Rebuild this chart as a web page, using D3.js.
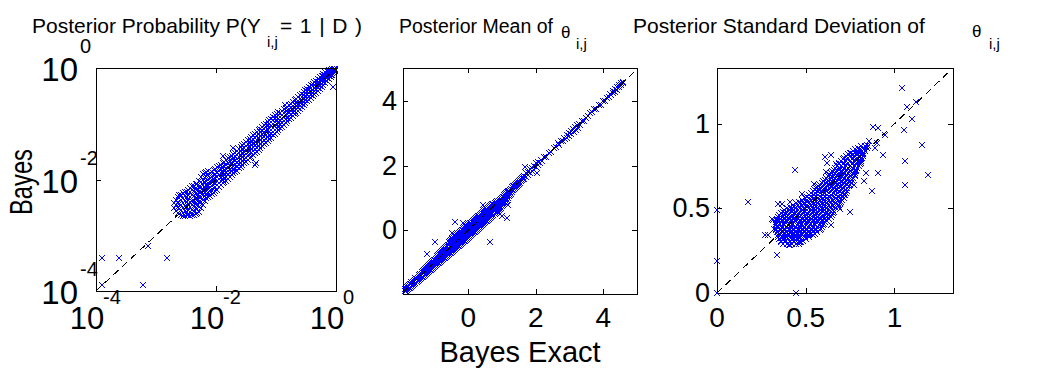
<!DOCTYPE html>
<html>
<head>
<meta charset="utf-8">
<script src="https://cdn.jsdelivr.net/npm/d3@7"></script>
<style>
  body { margin: 0; background: #fff; }
  svg { display: block; font-family: "Liberation Sans", Arial, sans-serif; }
</style>
</head>
<body>
<svg id="chart" width="1040" height="374"></svg>
<script>
// ---- panel 1: posterior probability P(Y=1|D), values kept as log10.
// dense band, one row per exact value: [log10 exact, [log10 bayes ...]]
const probBandRows = [
  [-2.70, [-2.52,-2.42]],
  [-2.67, [-2.56,-2.46,-2.36]],
  [-2.64, [-2.60,-2.49,-2.40,-2.31]],
  [-2.61, [-2.62,-2.53,-2.44,-2.34,-2.27]],
  [-2.58, [-2.64,-2.55,-2.46,-2.36,-2.28]],
  [-2.55, [-2.65,-2.60,-2.51,-2.42,-2.33,-2.25]],
  [-2.52, [-2.65,-2.56,-2.47,-2.39,-2.29,-2.22]],
  [-2.49, [-2.64,-2.59,-2.50,-2.41,-2.32,-2.23]],
  [-2.46, [-2.63,-2.54,-2.44,-2.36,-2.27,-2.18]],
  [-2.43, [-2.66,-2.58,-2.50,-2.41,-2.32,-2.23,-2.15]],
  [-2.40, [-2.64,-2.55,-2.46,-2.38,-2.28,-2.19,-2.12]],
  [-2.37, [-2.63,-2.56,-2.47,-2.39,-2.30,-2.21,-2.11]],
  [-2.34, [-2.61,-2.52,-2.43,-2.35,-2.25,-2.16,-2.08]],
  [-2.31, [-2.60,-2.53,-2.45,-2.36,-2.27,-2.18,-2.08]],
  [-2.28, [-2.58,-2.49,-2.41,-2.31,-2.22,-2.13,-2.03]],
  [-2.25, [-2.52,-2.41,-2.32,-2.23,-2.14,-2.05,-1.96]],
  [-2.22, [-2.45,-2.36,-2.27,-2.18,-2.09,-2.00,-1.90]],
  [-2.19, [-2.38,-2.30,-2.22,-2.14,-2.06,-1.98,-1.89]],
  [-2.16, [-2.34,-2.26,-2.17,-2.10,-2.02,-1.94,-1.86]],
  [-2.13, [-2.32,-2.25,-2.17,-2.09,-2.01,-1.92,-1.85]],
  [-2.10, [-2.29,-2.21,-2.13,-2.04,-1.97,-1.88]],
  [-2.07, [-2.26,-2.20,-2.12,-2.04,-1.96,-1.87]],
  [-2.04, [-2.24,-2.16,-2.07,-2.00,-1.92,-1.83]],
  [-2.01, [-2.21,-2.14,-2.06,-1.98,-1.90,-1.81]],
  [-1.98, [-2.18,-2.10,-2.02,-1.95,-1.86,-1.78]],
  [-1.95, [-2.14,-2.06,-1.99,-1.92,-1.85,-1.76]],
  [-1.92, [-2.10,-2.03,-1.96,-1.88,-1.82,-1.74]],
  [-1.89, [-2.07,-2.00,-1.93,-1.86,-1.79,-1.71]],
  [-1.86, [-2.04,-1.97,-1.90,-1.83,-1.76,-1.68]],
  [-1.83, [-2.02,-1.95,-1.88,-1.81,-1.74,-1.65]],
  [-1.80, [-1.99,-1.91,-1.85,-1.78,-1.71,-1.62]],
  [-1.77, [-1.96,-1.89,-1.82,-1.75,-1.68,-1.60]],
  [-1.74, [-1.92,-1.85,-1.79,-1.71,-1.64,-1.57]],
  [-1.71, [-1.89,-1.82,-1.75,-1.68,-1.61,-1.54]],
  [-1.68, [-1.87,-1.80,-1.73,-1.66,-1.58,-1.52]],
  [-1.65, [-1.84,-1.77,-1.70,-1.63,-1.56,-1.49]],
  [-1.62, [-1.80,-1.73,-1.66,-1.60,-1.52,-1.45]],
  [-1.59, [-1.77,-1.70,-1.63,-1.56,-1.49,-1.42]],
  [-1.56, [-1.74,-1.67,-1.60,-1.53,-1.46,-1.39]],
  [-1.53, [-1.71,-1.64,-1.57,-1.50,-1.43,-1.36]],
  [-1.50, [-1.68,-1.61,-1.55,-1.47,-1.40,-1.33]],
  [-1.47, [-1.65,-1.58,-1.51,-1.44,-1.37,-1.30]],
  [-1.44, [-1.62,-1.55,-1.48,-1.41,-1.34,-1.27]],
  [-1.41, [-1.59,-1.52,-1.45,-1.38,-1.31,-1.24]],
  [-1.38, [-1.56,-1.49,-1.42,-1.36,-1.28,-1.21]],
  [-1.35, [-1.53,-1.46,-1.39,-1.32,-1.25,-1.18]],
  [-1.32, [-1.50,-1.43,-1.36,-1.29,-1.22,-1.15]],
  [-1.29, [-1.47,-1.40,-1.33,-1.26,-1.19,-1.12]],
  [-1.26, [-1.43,-1.36,-1.30,-1.22,-1.15,-1.09]],
  [-1.23, [-1.40,-1.33,-1.26,-1.19,-1.12,-1.06]],
  [-1.20, [-1.37,-1.30,-1.23,-1.16,-1.09,-1.03]],
  [-1.17, [-1.34,-1.27,-1.20,-1.13,-1.06,-1.00]],
  [-1.14, [-1.31,-1.24,-1.17,-1.11,-1.03,-0.97]],
  [-1.11, [-1.28,-1.21,-1.14,-1.07,-1.00,-0.94]],
  [-1.08, [-1.25,-1.18,-1.11,-1.04,-0.97,-0.91]],
  [-1.05, [-1.21,-1.14,-1.07,-1.00,-0.93,-0.88]],
  [-1.02, [-1.18,-1.11,-1.04,-0.97,-0.90,-0.85]],
  [-0.99, [-1.15,-1.08,-1.01,-0.94,-0.87,-0.82]],
  [-0.96, [-1.12,-1.05,-0.98,-0.92,-0.84,-0.79]],
  [-0.93, [-1.08,-1.01,-0.94,-0.87,-0.80]],
  [-0.90, [-1.05,-0.98,-0.91,-0.84,-0.77]],
  [-0.87, [-1.02,-0.95,-0.88,-0.81,-0.74]],
  [-0.84, [-0.99,-0.92,-0.85,-0.78,-0.71]],
  [-0.81, [-0.95,-0.89,-0.83,-0.77,-0.70]],
  [-0.78, [-0.92,-0.86,-0.80,-0.74,-0.67]],
  [-0.75, [-0.89,-0.83,-0.77,-0.71,-0.64]],
  [-0.72, [-0.86,-0.80,-0.74,-0.68,-0.61]],
  [-0.69, [-0.83,-0.77,-0.71,-0.65,-0.58]],
  [-0.66, [-0.80,-0.74,-0.69,-0.62,-0.55]],
  [-0.63, [-0.77,-0.71,-0.65,-0.59,-0.52]],
  [-0.60, [-0.74,-0.68,-0.62,-0.56,-0.49]],
  [-0.57, [-0.70,-0.64,-0.58,-0.52,-0.46]],
  [-0.54, [-0.67,-0.61,-0.55,-0.49,-0.43]],
  [-0.51, [-0.63,-0.57,-0.51,-0.45,-0.40]],
  [-0.48, [-0.60,-0.54,-0.48,-0.42,-0.37]],
  [-0.45, [-0.57,-0.51,-0.45,-0.39,-0.34]],
  [-0.42, [-0.54,-0.48,-0.42,-0.36,-0.31]],
  [-0.39, [-0.50,-0.44,-0.39,-0.33,-0.28]],
  [-0.36, [-0.47,-0.41,-0.36,-0.31,-0.26]],
  [-0.33, [-0.44,-0.38,-0.33,-0.28,-0.23]],
  [-0.30, [-0.41,-0.35,-0.30,-0.25,-0.20]],
  [-0.27, [-0.37,-0.32,-0.27,-0.22,-0.17]],
  [-0.24, [-0.34,-0.29,-0.24,-0.19,-0.14]],
  [-0.21, [-0.30,-0.25,-0.20,-0.15,-0.11]],
  [-0.18, [-0.27,-0.22,-0.17,-0.12,-0.08]],
  [-0.15, [-0.23,-0.18,-0.14,-0.10,-0.06]],
  [-0.12, [-0.20,-0.15,-0.11,-0.07,-0.03]],
  [-0.09, [-0.16,-0.12,-0.08,-0.04]],
  [-0.06, [-0.13,-0.09,-0.05,-0.02]],
  [-0.03, [-0.09,-0.05,-0.02]],
  [-0.01, [-0.06,-0.03,-0.01]]
];
// scattered points away from the band: [log10 exact, log10 bayes]
const probOutliers = [
  [-1.88,-1.58],[-1.72,-1.43],[-1.35,-1.74],[-1.33,-1.70],[-0.85,-0.66],[-0.05,-0.34],
  [-3.905,-3.41],[-3.61,-3.41],[-2.82,-3.41],[-3.13,-3.19],[-3.905,-3.89],[-3.21,-3.89]
];
const probTickExp = [-4, -2, 0];

// ---- panel 2: posterior mean of theta, rows [exact, [bayes ...]]
const meanBandRows = [
  [-1.86, [-1.90,-1.82]], [-1.83, [-1.88,-1.79]], [-1.80, [-1.86,-1.76]], [-1.77, [-1.83,-1.73]],
  [-1.74, [-1.80,-1.70]], [-1.71, [-1.78,-1.68]], [-1.68, [-1.76,-1.66,-1.60]], [-1.65, [-1.72,-1.63]],
  [-1.62, [-1.70,-1.60]], [-1.59, [-1.67,-1.57]], [-1.56, [-1.64,-1.54,-1.48]], [-1.53, [-1.61,-1.51]],
  [-1.50, [-1.58,-1.48]], [-1.47, [-1.55,-1.45,-1.39]], [-1.44, [-1.52,-1.42,-1.36]], [-1.41, [-1.49,-1.39]],
  [-1.38, [-1.46,-1.36,-1.30]], [-1.35, [-1.44,-1.34,-1.27]], [-1.32, [-1.42,-1.32,-1.24]],
  [-1.29, [-1.39,-1.29,-1.21]], [-1.26, [-1.36,-1.26,-1.18]], [-1.23, [-1.33,-1.23,-1.15]],
  [-1.20, [-1.30,-1.20,-1.12]], [-1.17, [-1.28,-1.18,-1.09]], [-1.14, [-1.25,-1.15,-1.05]],
  [-1.11, [-1.22,-1.12,-1.02]], [-1.08, [-1.19,-1.09,-0.99]], [-1.05, [-1.16,-1.06,-0.96]],
  [-1.02, [-1.13,-1.03,-0.93]], [-0.99, [-1.11,-1.01,-0.91]], [-0.96, [-1.08,-0.98,-0.88]],
  [-0.93, [-1.06,-0.96,-0.86,-0.79]], [-0.90, [-1.03,-0.93,-0.83,-0.76]], [-0.87, [-1.01,-0.91,-0.81,-0.73]],
  [-0.84, [-0.98,-0.88,-0.78,-0.70]], [-0.81, [-0.96,-0.86,-0.76,-0.67]], [-0.78, [-0.93,-0.83,-0.73,-0.63]],
  [-0.75, [-0.90,-0.80,-0.70,-0.60]], [-0.72, [-0.87,-0.77,-0.67,-0.57]], [-0.69, [-0.85,-0.75,-0.65,-0.55]],
  [-0.66, [-0.82,-0.72,-0.62,-0.52]], [-0.63, [-0.80,-0.70,-0.60,-0.50]], [-0.60, [-0.77,-0.67,-0.57,-0.47]],
  [-0.57, [-0.75,-0.65,-0.55,-0.45,-0.37]], [-0.54, [-0.72,-0.62,-0.52,-0.42,-0.34]],
  [-0.51, [-0.70,-0.60,-0.50,-0.40,-0.31]], [-0.48, [-0.67,-0.57,-0.47,-0.37,-0.28]],
  [-0.45, [-0.64,-0.54,-0.44,-0.34,-0.26]], [-0.42, [-0.61,-0.51,-0.41,-0.31,-0.23]],
  [-0.39, [-0.59,-0.49,-0.39,-0.29,-0.20]], [-0.36, [-0.56,-0.46,-0.36,-0.26,-0.17]],
  [-0.33, [-0.53,-0.43,-0.33,-0.23,-0.14]], [-0.30, [-0.50,-0.40,-0.30,-0.20,-0.11]],
  [-0.27, [-0.48,-0.38,-0.28,-0.18,-0.09]], [-0.24, [-0.45,-0.35,-0.25,-0.15,-0.06]],
  [-0.21, [-0.43,-0.33,-0.23,-0.13,-0.03]], [-0.18, [-0.40,-0.30,-0.20,-0.10,0.00]],
  [-0.15, [-0.37,-0.27,-0.17,-0.07,0.02]], [-0.12, [-0.34,-0.24,-0.14,-0.04,0.05]],
  [-0.09, [-0.32,-0.22,-0.12,-0.02,0.07]], [-0.06, [-0.29,-0.19,-0.09,0.01,0.10]],
  [-0.03, [-0.26,-0.16,-0.06,0.04,0.12]], [0.00, [-0.23,-0.13,-0.03,0.07,0.15]],
  [0.03, [-0.20,-0.10,0.00,0.10,0.18]], [0.06, [-0.17,-0.07,0.03,0.13,0.21]],
  [0.09, [-0.15,-0.05,0.05,0.15,0.23]], [0.12, [-0.12,-0.02,0.08,0.18,0.26]],
  [0.15, [-0.09,0.01,0.11,0.21,0.29]], [0.18, [-0.06,0.04,0.14,0.24,0.32]],
  [0.21, [-0.04,0.06,0.16,0.26,0.34]], [0.24, [-0.01,0.09,0.19,0.29,0.37]],
  [0.27, [0.02,0.12,0.22,0.32,0.40]], [0.30, [0.05,0.15,0.25,0.35,0.43]],
  [0.33, [0.07,0.17,0.27,0.37,0.45]], [0.36, [0.10,0.20,0.30,0.40,0.48]],
  [0.39, [0.13,0.23,0.33,0.43,0.51]], [0.42, [0.16,0.26,0.36,0.46,0.54]],
  [0.45, [0.19,0.29,0.39,0.49,0.57]], [0.48, [0.22,0.32,0.42,0.52,0.60]],
  [0.51, [0.25,0.35,0.45,0.55,0.62]], [0.54, [0.28,0.38,0.48,0.58,0.65]],
  [0.57, [0.30,0.40,0.50,0.60,0.67]], [0.60, [0.33,0.43,0.53,0.63,0.70]],
  [0.63, [0.36,0.46,0.56,0.66,0.73]], [0.66, [0.39,0.49,0.59,0.69,0.76]],
  [0.69, [0.42,0.52,0.62,0.72,0.78]], [0.72, [0.45,0.55,0.65,0.75,0.81]],
  [0.75, [0.47,0.57,0.67,0.77,0.83]], [0.78, [0.50,0.60,0.70,0.80,0.86]],
  [0.81, [0.53,0.63,0.73,0.83,0.88]], [0.84, [0.56,0.66,0.76,0.86,0.91]],
  [0.87, [0.60,0.70,0.80,0.89]], [0.90, [0.63,0.73,0.83,0.92]], [0.93, [0.66,0.76,0.86,0.95]],
  [0.96, [0.70,0.80,0.90,0.98]], [0.99, [0.74,0.84,0.94,1.01]], [1.02, [0.77,0.87,0.97,1.04]],
  [1.05, [0.82,0.92,1.02,1.08]], [1.08, [0.86,0.96,1.06,1.12]], [1.11, [0.90,1.00,1.10,1.16]],
  [1.14, [0.95,1.05,1.14,1.19]], [1.17, [1.01,1.10,1.18,1.22]], [1.20, [1.06,1.14,1.22]],
  [1.23, [1.10,1.18,1.26]], [1.26, [1.14,1.22,1.29]], [1.29, [1.19,1.26,1.33]], [1.32, [1.24,1.31,1.36]],
  [1.35, [1.28,1.36]], [1.38, [1.32,1.40]], [1.41, [1.35,1.43]], [1.44, [1.39,1.46]], [1.47, [1.42,1.49]],
  [1.50, [1.45,1.52]], [1.53, [1.48,1.55]], [1.56, [1.52,1.58]], [1.59, [1.55,1.61]], [1.62, [1.58,1.64]]
];
const meanUpper = [
  [1.66,1.60],[1.66,1.70],[1.70,1.66],[1.72,1.78],[1.76,1.72],[1.78,1.82],[1.82,1.78],[1.84,1.90],
  [1.88,1.84],[1.90,1.94],[1.94,1.88],[1.96,2.00],[2.00,1.96],[2.02,2.08],[2.06,2.02],[2.08,2.12],
  [2.12,2.08],[2.16,2.18],[2.20,2.16],[2.24,2.28],[2.30,2.28],[2.38,2.40],[2.46,2.44],[2.54,2.56],
  [2.60,2.58],[2.66,2.70],[2.70,2.66],[2.76,2.78],[2.80,2.76],[2.84,2.88],[2.88,2.84],[2.92,2.96],
  [2.94,2.88],[2.98,3.02],[3.00,2.94],[3.04,3.08],[3.06,3.00],[3.10,3.14],[3.12,3.06],[3.16,3.20],
  [3.18,3.12],[3.22,3.26],[3.24,3.18],[3.28,3.30],[3.32,3.28],[3.36,3.38],[3.42,3.40],[3.48,3.50],
  [3.56,3.54],[3.62,3.64],[3.68,3.66],[3.74,3.76],[3.80,3.78],[3.86,3.88],[3.92,3.90],[3.98,4.00],
  [4.04,4.02],[4.10,4.12],[4.16,4.14],[4.20,4.24],[4.24,4.20],[4.28,4.32],[4.30,4.26],[4.34,4.38],
  [4.36,4.30],[4.40,4.44],[4.42,4.36],[4.46,4.50],[4.48,4.44],[4.52,4.56],[4.54,4.50],[4.58,4.60],
  [4.60,4.56]
];
const meanOutliers = [
  [-1.23,-0.74],[-0.98,-0.37],[-0.39,0.27],[-0.15,0.22],[-0.49,-0.09],[0.64,-0.37],[0.45,0.79],
  [0.99,0.45],[1.14,0.37],[1.19,0.79],[1.68,1.96],[2.03,1.77]
];
const meanTicks = [0, 2, 4];

// ---- panel 3: posterior sd of theta, core cloud rows [bayes, [exact ...]]
const sdCoreRows = [
  [0.29, [0.37,0.395,0.42,0.445,0.46]],
  [0.30, [0.36,0.385,0.41,0.435,0.46,0.475]],
  [0.31, [0.36,0.385,0.41,0.435,0.46,0.485]],
  [0.32, [0.35,0.375,0.40,0.425,0.45,0.475,0.50]],
  [0.33, [0.345,0.37,0.395,0.42,0.445,0.47,0.495,0.52]],
  [0.34, [0.345,0.37,0.395,0.42,0.445,0.47,0.495,0.52,0.54]],
  [0.35, [0.35,0.375,0.40,0.425,0.45,0.475,0.50,0.525,0.55]],
  [0.36, [0.34,0.365,0.39,0.415,0.44,0.465,0.49,0.515,0.54,0.565]],
  [0.37, [0.335,0.36,0.385,0.41,0.435,0.46,0.485,0.51,0.535,0.56,0.58]],
  [0.38, [0.335,0.36,0.385,0.41,0.435,0.46,0.485,0.51,0.535,0.56,0.585]],
  [0.39, [0.34,0.365,0.39,0.415,0.44,0.465,0.49,0.515,0.54,0.565,0.59]],
  [0.40, [0.33,0.35,0.375,0.40,0.425,0.45,0.475,0.50,0.525,0.55,0.575,0.595]],
  [0.41, [0.33,0.355,0.38,0.405,0.43,0.455,0.48,0.505,0.53,0.555,0.58,0.605]],
  [0.42, [0.335,0.36,0.385,0.41,0.435,0.46,0.485,0.51,0.535,0.56,0.585,0.61]],
  [0.43, [0.34,0.365,0.39,0.415,0.44,0.465,0.49,0.515,0.54,0.565,0.59,0.615]],
  [0.44, [0.34,0.355,0.38,0.405,0.43,0.455,0.48,0.505,0.53,0.555,0.58,0.605,0.63]],
  [0.45, [0.345,0.37,0.395,0.42,0.445,0.47,0.495,0.52,0.545,0.57,0.595,0.62,0.64]],
  [0.46, [0.35,0.375,0.40,0.425,0.45,0.475,0.50,0.525,0.55,0.575,0.60,0.625,0.65]],
  [0.47, [0.36,0.385,0.41,0.435,0.46,0.485,0.51,0.535,0.56,0.585,0.61,0.635,0.655]],
  [0.48, [0.37,0.395,0.42,0.445,0.47,0.495,0.52,0.545,0.57,0.595,0.62,0.645,0.66]],
  [0.49, [0.38,0.405,0.43,0.455,0.48,0.505,0.53,0.555,0.58,0.605,0.63,0.655]],
  [0.50, [0.395,0.42,0.445,0.47,0.495,0.52,0.545,0.57,0.595,0.62,0.645,0.67]],
  [0.51, [0.41,0.435,0.46,0.485,0.51,0.535,0.56,0.585,0.61,0.635,0.66,0.685]],
  [0.52, [0.43,0.455,0.48,0.505,0.53,0.555,0.58,0.605,0.63,0.655,0.68,0.69]],
  [0.53, [0.445,0.47,0.495,0.52,0.545,0.57,0.595,0.62,0.645,0.67,0.695]],
  [0.54, [0.46,0.485,0.51,0.535,0.56,0.585,0.61,0.635,0.66,0.685,0.70]],
  [0.55, [0.48,0.505,0.53,0.555,0.58,0.605,0.63,0.655,0.68,0.705]],
  [0.56, [0.495,0.52,0.545,0.57,0.595,0.62,0.645,0.67,0.695,0.715]],
  [0.57, [0.51,0.535,0.56,0.585,0.61,0.635,0.66,0.685,0.71]],
  [0.58, [0.52,0.545,0.57,0.595,0.62,0.645,0.67,0.695,0.72]],
  [0.59, [0.53,0.555,0.58,0.605,0.63,0.655,0.68,0.705,0.725]],
  [0.60, [0.54,0.565,0.59,0.615,0.64,0.665,0.69,0.715,0.735]],
  [0.61, [0.55,0.575,0.60,0.625,0.65,0.675,0.70,0.725]],
  [0.62, [0.56,0.585,0.61,0.635,0.66,0.685,0.71,0.735]],
  [0.63, [0.57,0.595,0.62,0.645,0.67,0.695,0.72,0.745]],
  [0.64, [0.58,0.605,0.63,0.655,0.68,0.705,0.73,0.75]],
  [0.65, [0.59,0.615,0.64,0.665,0.69,0.715,0.74,0.755]],
  [0.66, [0.60,0.625,0.65,0.675,0.70,0.725,0.75]],
  [0.67, [0.61,0.635,0.66,0.685,0.71,0.735,0.76]],
  [0.68, [0.615,0.64,0.665,0.69,0.715,0.74,0.765]],
  [0.69, [0.625,0.65,0.675,0.70,0.725,0.75,0.775]],
  [0.70, [0.635,0.66,0.685,0.71,0.735,0.76,0.78]],
  [0.71, [0.64,0.665,0.69,0.715,0.74,0.765,0.78]],
  [0.72, [0.65,0.675,0.70,0.725,0.75,0.775,0.785]],
  [0.73, [0.66,0.685,0.71,0.735,0.76,0.785]],
  [0.74, [0.665,0.69,0.715,0.74,0.765,0.79]],
  [0.75, [0.675,0.70,0.725,0.75,0.775,0.80]],
  [0.76, [0.685,0.71,0.735,0.76,0.785,0.805]],
  [0.77, [0.69,0.715,0.74,0.765,0.79,0.81]],
  [0.78, [0.70,0.725,0.75,0.775,0.80,0.81]],
  [0.79, [0.71,0.735,0.76,0.785,0.81]],
  [0.80, [0.715,0.74,0.765,0.79,0.815]],
  [0.81, [0.725,0.75,0.775,0.80,0.82]],
  [0.82, [0.74,0.765,0.79,0.815,0.825]],
  [0.83, [0.75,0.775,0.80,0.825]],
  [0.84, [0.765,0.79,0.815,0.835]],
  [0.85, [0.78,0.805,0.83]],
  [0.86, [0.795,0.82,0.845]],
  [0.87, [0.81,0.835,0.85]]
];
// scattered points around the cloud: [exact, bayes]
const sdOutliers = [
  [1.04,1.21],[1.07,1.10],[1.12,1.13],[1.10,1.03],[0.879,0.984],[0.91,0.975],[0.947,0.935],[1.054,0.965],
  [1.155,0.872],[1.06,0.78],[1.187,0.70],[1.058,0.636],[0.909,0.711],[0.935,0.817],[0.875,0.60],
  [0.437,0.73],[0.177,0.535],[0.002,0.488],[0.0,0.187],[0.0,0.002],[0.445,0.0],[0.338,0.222],[0.287,0.345],
  [0.747,0.478],[0.692,0.498],[0.643,0.404],[0.636,0.453],[0.621,0.63],[0.617,0.714],[0.611,0.803],
  [0.645,0.813],[0.62,0.77],[0.673,0.764],[0.838,0.711],[0.771,0.636],[0.828,0.661],[0.904,0.888],
  [0.888,0.856],[0.856,0.901],[0.847,0.872],[0.787,0.827],[0.753,0.827],[0.715,0.577],[0.423,0.341],
  [0.46,0.325],[0.403,0.286],[0.31,0.439],[0.323,0.38],[0.366,0.528],[0.409,0.537],[0.549,0.646],
  [0.479,0.587],[0.573,0.616],[0.272,0.341],[0.315,0.43],[0.362,0.325],[0.413,0.282],[0.47,0.30],[0.344,0.528]
];
const sdTicks = [0, 0.5, 1];

const svg = d3.select("#chart");
const blue = "#0000ff";

// one cross marker per point, aliased like the original bitmap
function drawMarks(g, pts, x, y, color) {
  g.append("g")
    .attr("shape-rendering", "crispEdges")
    .selectAll("path")
    .data(pts)
    .enter()
    .append("path")
    .attr("d", d => {
      const cx = Math.round(x(d[0])), cy = Math.round(y(d[1]));
      return `M${cx - 3},${cy - 3}L${cx + 3},${cy + 3}M${cx - 3},${cy + 3}L${cx + 3},${cy - 3}`;
    })
    .attr("stroke", color)
    .attr("stroke-width", 1)
    .attr("fill", "none");
}

function drawPanel(p) {
  const { x, y } = p;
  const [x0, x1] = x.range(), [y1, y0] = y.range();
  const g = svg.append("g");

  drawMarks(g, p.blue, x, y, blue);

  // y = x reference line, on top of the marks
  g.append("line")
    .attr("x1", x(p.diag[0])).attr("y1", y(p.diag[0]))
    .attr("x2", x(p.diag[1])).attr("y2", y(p.diag[1]))
    .attr("stroke", "#000").attr("stroke-width", 1)
    .attr("shape-rendering", "crispEdges")
    .attr("stroke-dasharray", "7,5");

  // box with inward ticks on all four sides
  g.append("rect")
    .attr("x", x0 + 0.5).attr("y", y0 + 0.5)
    .attr("width", x1 - x0).attr("height", y1 - y0)
    .attr("fill", "none").attr("stroke", "#000");

  const tl = 5;
  p.ticks.forEach(t => {
    const tx = Math.round(x(t)) + 0.5, ty = Math.round(y(t)) + 0.5;
    g.append("path")
      .attr("d", `M${tx},${y1}v${-tl}M${tx},${y0}v${tl}M${x0},${ty}h${tl}M${x1},${ty}h${-tl}`)
      .attr("stroke", "#000").attr("fill", "none");
  });
  return g;
}

const rowsToPoints = rows => rows.flatMap(([a, bs]) => bs.map(b => [a, b]));
const pow10 = d => [10 ** d[0], 10 ** d[1]];

// ---- panel 1
const x1s = d3.scaleLog().domain([1e-4, 1]).range([96, 336]);
const y1s = d3.scaleLog().domain([1e-4, 1]).range([291, 68]);
const g1 = drawPanel({
  x: x1s, y: y1s,
  blue: rowsToPoints(probBandRows).concat(probOutliers).map(pow10),
  ticks: probTickExp.map(e => 10 ** e),
  diag: [1e-4, 1]
});
probTickExp.forEach(e => {
  const v = 10 ** e;
  g1.append("text").attr("x", x1s(v) - 9).attr("y", 329)
    .attr("text-anchor", "middle").attr("font-size", 31).text("10");
  g1.append("text").attr("x", x1s(v) + 7).attr("y", 304)
    .attr("font-size", 20).text(e);
  g1.append("text").attr("x", 78).attr("y", y1s(v) + 13)
    .attr("text-anchor", "end").attr("font-size", 33).text("10");
  g1.append("text").attr("x", 80).attr("y", y1s(v) - 15)
    .attr("font-size", 20).text(e);
});

// ---- panel 2
const x2s = d3.scaleLinear().domain([-1.93, 5]).range([403, 637]);
const y2s = d3.scaleLinear().domain([-1.98, 5.04]).range([294, 68]);
const g2 = drawPanel({
  x: x2s, y: y2s,
  blue: rowsToPoints(meanBandRows).concat(meanUpper, meanOutliers),
  ticks: meanTicks, diag: [-1.93, 5]
});
meanTicks.forEach(t => {
  g2.append("text").attr("x", x2s(t)).attr("y", 327)
    .attr("text-anchor", "middle").attr("font-size", 28).text(t);
  g2.append("text").attr("x", 397).attr("y", y2s(t) + 9)
    .attr("text-anchor", "end").attr("font-size", 27).text(t);
});

// ---- panel 3
const x3s = d3.scaleLinear().domain([0, 1.33]).range([717, 953]);
const y3s = d3.scaleLinear().domain([0, 1.33]).range([293, 68]);
const g3 = drawPanel({
  x: x3s, y: y3s,
  blue: rowsToPoints(sdCoreRows).map(d => [d[1], d[0]]).concat(sdOutliers),
  ticks: sdTicks, diag: [0, 1.33]
});
sdTicks.forEach(t => {
  g3.append("text").attr("x", x3s(t)).attr("y", 327)
    .attr("text-anchor", "middle").attr("font-size", 28).text(t);
  g3.append("text").attr("x", 710).attr("y", y3s(t) + 9)
    .attr("text-anchor", "end").attr("font-size", 27).text(t);
});

// ---- titles
const title = (x, y, size, str) =>
  svg.append("text").attr("x", x).attr("y", y).attr("font-size", size).text(str);
title(32, 33, 21, "Posterior Probability P(Y");
title(267, 47, 15, "i,j");
title(280, 33, 21, "=1|D)").attr("textLength", 82).attr("lengthAdjust", "spacing");
title(399, 33, 19.5, "Posterior Mean of");
title(561, 38, 17, "θ");
title(576, 49, 15, "i,j");
title(633, 33, 21, "Posterior Standard Deviation of");
title(972, 37, 17, "θ");
title(989, 49, 15, "i,j");

// ---- axis labels
svg.append("text")
  .attr("transform", "translate(32,182) rotate(-90)")
  .attr("text-anchor", "middle").attr("font-size", 31)
  .attr("textLength", 66).attr("lengthAdjust", "spacingAndGlyphs")
  .text("Bayes");
svg.append("text")
  .attr("x", 520).attr("y", 362)
  .attr("text-anchor", "middle").attr("font-size", 29).text("Bayes Exact");
</script>
</body>
</html>
